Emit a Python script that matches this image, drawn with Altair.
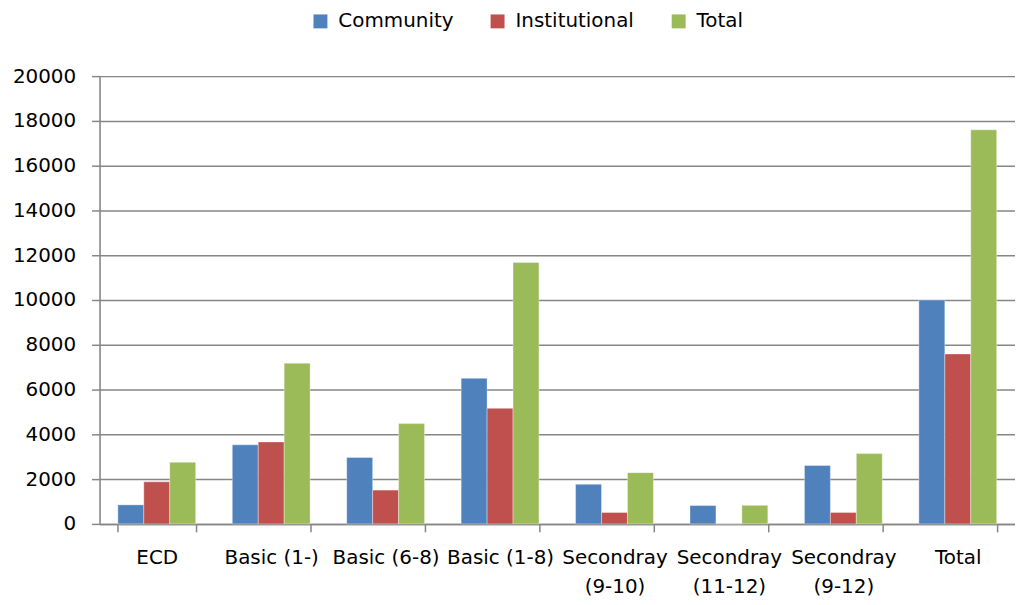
import altair as alt
import pandas as pd

categories = ["ECD", "Basic (1-)", "Basic (6-8)", "Basic (1-8)", "Secondray|(9-10)",
              "Secondray|(11-12)", "Secondray|(9-12)", "Total"]
series = ["Community", "Institutional", "Total"]
community = [850, 3530, 2970, 6500, 1770, 820, 2610, 10000]
institutional = [1880, 3660, 1510, 5160, 510, 0, 510, 7590]
total = [2750, 7180, 4480, 11680, 2290, 830, 3140, 17600]
colors = ["#4F81BD", "#C0504D", "#9BBB59"]

rows = []
for i, c in enumerate(categories):
    for s, vals in zip(series, [community, institutional, total]):
        rows.append({"category": c, "series": s, "value": vals[i]})
df = pd.DataFrame(rows)

FONT = "DejaVu Sans"

chart = alt.Chart(df).mark_bar(stroke="white", strokeWidth=0.6, strokeOpacity=0.6).encode(
    x=alt.X("category:N", sort=categories, title=None,
            scale=alt.Scale(paddingInner=0.32, paddingOuter=0.16),
            axis=alt.Axis(labelExpr="split(datum.label, '|')", labelAngle=0,
                          labelFontSize=20, labelFont=FONT, labelColor="#000000",
                          labelBaseline="top", labelLineHeight=29, labelPadding=16,
                          tickBand="extent", tickSize=8, tickColor="#868686", tickWidth=1.5,
                          domainColor="#868686", domainWidth=1.5, grid=False)),
    xOffset=alt.XOffset("series:N", sort=series),
    y=alt.Y("value:Q", title=None,
            scale=alt.Scale(domain=[0, 20000], nice=False),
            axis=alt.Axis(values=list(range(0, 20001, 2000)), format="d",
                          labelFontSize=20, labelFont=FONT,
                          labelColor="#000000", labelPadding=16, tickSize=8,
                          tickColor="#868686", tickWidth=1.5, domainColor="#868686",
                          domainWidth=1.5, gridColor="#868686", gridWidth=1.5)),
    color=alt.Color("series:N", sort=series, title=None,
                    scale=alt.Scale(domain=series, range=colors),
                    legend=alt.Legend(orient="none", legendX=212, legendY=-65,
                                      direction="horizontal", symbolType="square",
                                      symbolSize=196, symbolStrokeWidth=0, padding=0,
                                      labelFontSize=20, labelFont=FONT, labelColor="#000000",
                                      columnPadding=34, labelOffset=8)),
).properties(
    width=920, height=450,
    autosize=alt.AutoSizeParams(type="none"),
    padding={"left": 92, "top": 67, "right": 0, "bottom": 72},
).configure_view(stroke=None).configure(background="white")

chart.save("out.html", embed_options={"renderer": "svg", "actions": False})
